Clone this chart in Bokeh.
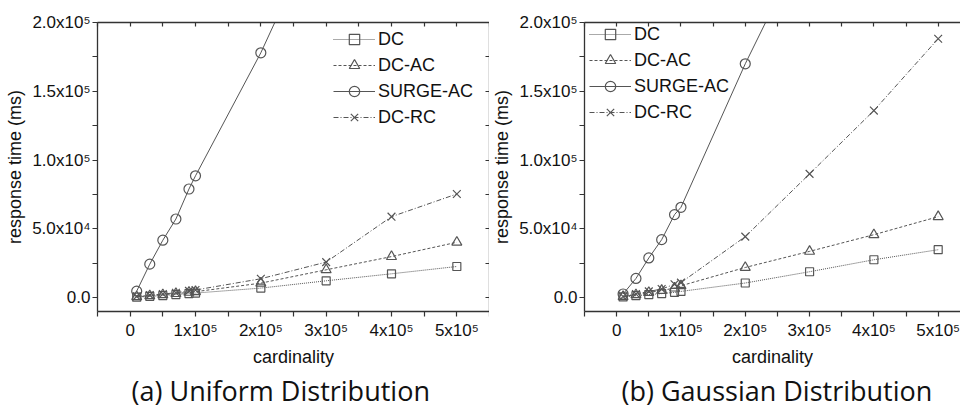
from bokeh.plotting import figure
from bokeh.models import LinearAxis, FixedTicker, Range1d, Title
from bokeh.layouts import row
from bokeh.embed import file_html
from bokeh.resources import INLINE

# ---------------- data ----------------
cardinality = [10000, 30000, 50000, 70000, 90000, 100000, 200000, 300000, 400000, 500000]
series_names = ["DC", "DC-AC", "SURGE-AC", "DC-RC"]

uniform_dc = [400, 1000, 1600, 2300, 3000, 3400, 7000, 12300, 17400, 22700]
uniform_dc_ac = [700, 1400, 2200, 3000, 3900, 4400, 10600, 20300, 29900, 40300]
uniform_surge_ac = [4800, 24400, 41800, 57200, 79000, 88600, 178000, 281000, 385000, 490000]
uniform_dc_rc = [1000, 1900, 2700, 3600, 5000, 5600, 13800, 25900, 58900, 75400]

gaussian_dc = [600, 1500, 2300, 3000, 3900, 4600, 10700, 18900, 27600, 34900]
gaussian_dc_ac = [800, 2200, 3800, 5300, 7000, 8700, 22000, 33700, 45800, 58900]
gaussian_surge_ac = [2700, 14000, 28900, 42200, 60400, 65700, 170000, 265000, 360000, 460000]
gaussian_dc_rc = [900, 2700, 4600, 6300, 9800, 11000, 44400, 90000, 136000, 188200]

x_tick_values = [0, 100000, 200000, 300000, 400000, 500000]
x_tick_labels = ["0", "1x10\u2075", "2x10\u2075", "3x10\u2075", "4x10\u2075", "5x10\u2075"]
x_minor_ticks = [-50000, 50000, 150000, 250000, 350000, 450000, 550000]
y_tick_values = [0, 50000, 100000, 150000, 200000]
y_tick_labels = ["0.0", "5.0x10\u2074", "1.0x10\u2075", "1.5x10\u2075", "2.0x10\u2075"]
y_minor_ticks = [25000, 75000, 125000, 175000]

# ---------------- styles ----------------
STYLES = {
    "DC": dict(marker="square", dash="1 1", size=8),
    "DC-AC": dict(marker="triangle", dash="3 2", size=10),
    "SURGE-AC": dict(marker="circle", dash="solid", size=10),
    "DC-RC": dict(marker="x", dash="5 2 1 2", size=11),
}
LINE_COLOR = "#555555"
AXIS_COLOR = "#333333"
SANS = "Liberation Sans"


def style_axis(ax, ticks, labels, minor, outward=True, show_labels=True):
    ax.ticker = FixedTicker(ticks=ticks, minor_ticks=minor)
    ax.axis_line_color = AXIS_COLOR
    ax.axis_line_width = 1.3
    ax.major_tick_line_color = AXIS_COLOR
    ax.minor_tick_line_color = AXIS_COLOR
    ax.major_tick_line_width = 1.2
    ax.minor_tick_line_width = 1.2
    if outward:
        ax.major_tick_out, ax.major_tick_in = 5, 0
        ax.minor_tick_out, ax.minor_tick_in = 5, 0
    else:
        ax.major_tick_out, ax.major_tick_in = 0, 4
        ax.minor_tick_out, ax.minor_tick_in = 0, 4
    if show_labels:
        ax.major_label_overrides = dict(zip(ticks, labels))
        ax.major_label_text_font = SANS
        ax.major_label_text_font_size = "17px"
        ax.major_label_text_color = "#111111"
    else:
        ax.major_label_overrides = {t: "" for t in ticks}
        ax.major_label_text_font_size = "1px"
        ax.major_label_standoff = 0


def make_panel(series, caption, x_end, width, left_border, legend_xy,
               right_axis, caption_offset):
    p = figure(width=width, height=408, output_backend="svg", toolbar_location=None,
               x_range=Range1d(-50000, x_end), y_range=Range1d(-10000, 200000),
               min_border_left=left_border, min_border_right=0,
               min_border_top=22, min_border_bottom=96)
    p.grid.visible = False
    p.outline_line_color = None
    p.background_fill_color = "white"

    for name, vals in zip(series_names, series):
        st = STYLES[name]
        p.line(cardinality, vals, line_color=LINE_COLOR, line_width=1,
               line_dash=st["dash"], legend_label=name)
        p.scatter(cardinality, vals, marker=st["marker"], size=st["size"],
                  line_color=LINE_COLOR, line_width=1.2, fill_color=None,
                  legend_label=name)

    xa = p.xaxis[0]
    style_axis(xa, x_tick_values, x_tick_labels, x_minor_ticks)
    xa.major_label_standoff = 4
    xa.axis_label = "cardinality"
    ya = p.yaxis[0]
    style_axis(ya, y_tick_values, y_tick_labels, y_minor_ticks)
    ya.major_label_standoff = 2
    ya.axis_label = "response time (ms)"
    for ax in (xa, ya):
        ax.axis_label_text_font = SANS
        ax.axis_label_text_font_size = "18px"
        ax.axis_label_text_font_style = "normal"
        ax.axis_label_text_color = "#111111"
        ax.axis_label_standoff = 4

    top = LinearAxis()
    style_axis(top, x_tick_values, x_tick_labels, x_minor_ticks, outward=False, show_labels=False)
    p.add_layout(top, "above")
    if right_axis:
        ra = LinearAxis()
        style_axis(ra, y_tick_values, y_tick_labels, y_minor_ticks, outward=False, show_labels=False)
        p.add_layout(ra, "right")

    lg = p.legend[0]
    lg.location = legend_xy
    lg.margin = 0
    lg.padding = 0
    lg.background_fill_alpha = 0
    lg.border_line_alpha = 0
    lg.label_text_font = SANS
    lg.label_text_font_size = "18px"
    lg.label_text_color = "#111111"
    lg.glyph_width = 42
    lg.glyph_height = 26
    lg.label_height = 20
    lg.spacing = -7
    lg.label_standoff = 3

    cap = Title(text=caption, align="left", offset=caption_offset, text_font="Open Sans",
                text_font_size="27px", text_font_style="normal", text_color="#111111",
                standoff=0)
    p.add_layout(cap, "below")
    return p


left = make_panel([uniform_dc, uniform_dc_ac, uniform_surge_ac, uniform_dc_rc],
                  "(a) Uniform Distribution", 550000, 489, 97, (236, 181), True, 34)
right = make_panel([gaussian_dc, gaussian_dc_ac, gaussian_surge_ac, gaussian_dc_rc],
                   "(b) Gaussian Distribution", 534700, 471, 89, (5, 186), False, 37)

layout = row(left, right, spacing=0)
open("out.html", "w").write(file_html(layout, INLINE))
